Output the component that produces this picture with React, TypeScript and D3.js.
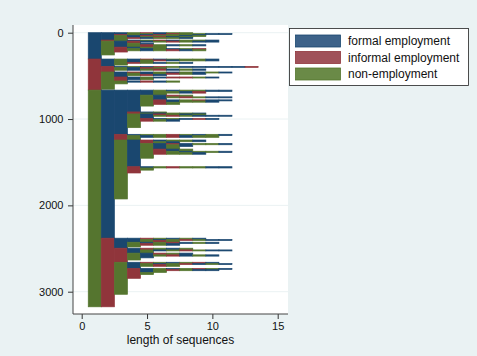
import React, { useRef, useEffect } from 'react';
import * as d3 from 'd3';

// states, in the order Stata sorts them
const stateCodes = ['F', 'I', 'N'];
const stateLabels = ['formal employment', 'informal employment', 'non-employment'];

// one letter per spell, and how many people follow that sequence
const sequences = [
    // starts formal
    'FFFNNFINNFF', 'FFFNIFNN', 'FFINFINNF', 'FFNFINNFN', 'FFNFNIFN', 'FFNIFNNF', 'FFN',
    'FINFNIFNNF',
    'FNFNINFNF', 'FNFIFNINFF', 'FNFNF', 'FNFI', 'FNINFNIFN', 'FNIFNN', 'FNINFNFNI', 'FNI', 'FNFNIN', 'FN',
    'F',
    // starts informal
    'IFNFNIFNNF', 'IFNINFNF', 'IFNFIFNNNF', 'IFNFN', 'IFN', 'IF',
    'IIFNFINFFFFFI', 'IINFNIFNF', 'IINFIN', 'II',
    'INFNFNINF', 'INFIFNFNFNF', 'INFNIF', 'INF', 'INIFNFIINF', 'INIFN', 'INI', 'INNFIFN', 'INN', 'IN',
    'I',
    // starts non-employed
    'NFFFFNFNNFF', 'NFFFFNNFI', 'NFFFFN',
    'NFFFNIFNIFF', 'NFFFNIFNNF', 'NFFFNIN', 'NFFFNFNINFF', 'NFFFNFIN', 'NFFFNF', 'NFFFN', 'NFFF',
    'NFFIFN', 'NFFINFNNF',
    'NFFNFNINFFF', 'NFFNFINFN', 'NFFNIFNFIF', 'NFFNINF', 'NFFNF', 'NFFN', 'NFF',
    'NFIFNNINFNF', 'NFINFNIFNN', 'NFIN',
    'NFNFNFIFNNF', 'NFNFIFNNF', 'NFNFNINFNNF', 'NFNFINF', 'NFNFNFNF', 'NFNFNIFN', 'NFNFNINNF', 'NFNFNFN', 'NFNFN', 'NFNF',
    'NFNIFNINNFF', 'NFNIN', 'NFNI', 'NFN', 'NF',
    'NIFFNFNINFF', 'NIFFINFNF', 'NIFFNIN', 'NIFNFNIFNF', 'NIFNINF', 'NIFN', 'NIF',
    'NIIFNFNINFF', 'NIIFINFN', 'NIIFN', 'NIINFNIFNF', 'NIINFINF', 'NIINF', 'NIIN', 'NII',
    'NINFNFNIFNF', 'NINFINFNIF', 'NINFNIN', 'NINF',
    'NINIFNFNINF', 'NINIFNINFF', 'NININ', 'NINIFN', 'NINI', 'NIN', 'NI',
];
const counts = [
    12, 10, 10, 13, 12, 10, 18,
    12,
    14, 12, 18, 12, 15, 16, 12, 14, 14, 34,
    47,
    12, 12, 10, 16, 20, 15,
    12, 15, 18, 20,
    15, 12, 16, 15, 12, 20, 14, 14, 20, 62,
    10,
    15, 20, 23,
    12, 15, 25, 12, 20, 23, 20, 68,
    12, 11,
    12, 15, 12, 20, 25, 75, 77,
    15, 20, 31,
    15, 20, 15, 20, 20, 25, 20, 30, 46, 98,
    15, 25, 33, 301, 454,
    12, 15, 20, 15, 20, 20, 14,
    12, 20, 25, 15, 20, 20, 25, 26,
    12, 15, 20, 24,
    12, 15, 25, 20, 43, 185, 145,
];

const xTicks = [0, 5, 10, 15];
const yTicks = [0, 1000, 2000, 3000];

const palette = { F: '#1a476f', I: '#90353b', N: '#55752f' };
const keyFill = { F: '#3d6289', I: '#a0525a', N: '#6a8a47' };

export default function App({ width = 477, height = 356 }) {
    const svgRef = useRef(null);

    useEffect(() => {
        const svg = d3.select(svgRef.current);
        svg.selectAll('*').remove();

        const plot = { left: 73, right: 288, top: 25, bottom: 314 };
        const font = 'Liberation Sans, Arial, Helvetica, sans-serif';

        // sort like sqindexplot: element by element, shorter sequences after longer ones
        const rank = (s, i) => (i < s.length ? stateCodes.indexOf(s[i]) : 3);
        const rows = sequences.map((s, i) => ({ seq: s, n: counts[i] }))
            .sort((a, b) => {
                const len = Math.max(a.seq.length, b.seq.length);
                for (let i = 0; i < len; i++) {
                    const d = rank(a.seq, i) - rank(b.seq, i);
                    if (d !== 0) return d;
                }
                return 0;
            });
        let acc = 0;
        rows.forEach(r => { r.start = acc; acc += r.n; r.end = acc; });

        // merge neighbouring rows that share the same state at a position
        const maxLen = d3.max(rows, r => r.seq.length);
        const blocks = [];
        for (let p = 0; p < maxLen; p++) {
            let cur = null;
            rows.forEach(r => {
                const st = r.seq[p];
                if (cur && cur.state === st) { cur.end = r.end; return; }
                if (cur && cur.state) blocks.push(cur);
                cur = { pos: p + 1, state: st, start: r.start, end: r.end };
            });
            if (cur && cur.state) blocks.push(cur);
        }

        const x = d3.scaleLinear().domain([0, 15]).range([81.7, 277.7]);
        const y = d3.scaleLinear().domain([0, 3000]).range([32.7, 291.7]);

        // background + plot region
        svg.append('rect').attr('width', width).attr('height', height).attr('fill', '#eaf2f3');
        svg.append('rect')
            .attr('x', plot.left).attr('y', plot.top)
            .attr('width', plot.right - plot.left).attr('height', plot.bottom - plot.top)
            .attr('fill', 'white');

        // gridlines
        svg.append('g')
            .selectAll('line')
            .data(yTicks)
            .join('line')
            .attr('x1', plot.left).attr('x2', plot.right)
            .attr('y1', d => y(d)).attr('y2', d => y(d))
            .attr('stroke', '#eaf2f3')
            .attr('stroke-width', 1);

        // the sequences (outlined like Stata's rbars, so thin strips stay visible)
        svg.append('g')
            .selectAll('rect')
            .data(blocks)
            .join('rect')
            .attr('x', d => x(d.pos - 0.5))
            .attr('width', d => x(d.pos + 0.5) - x(d.pos - 0.5))
            .attr('y', d => y(d.start))
            .attr('height', d => y(d.end) - y(d.start))
            .attr('fill', d => palette[d.state])
            .attr('stroke', d => palette[d.state])
            .attr('stroke-width', 0.7);

        // axes
        svg.append('g')
            .attr('transform', `translate(${plot.left},0)`)
            .call(d3.axisLeft(y).tickValues(yTicks).tickFormat(d3.format('d')).tickSize(5).tickPadding(4.5))
            .call(g => g.select('.domain').remove())
            .call(g => g.selectAll('.tick line').attr('stroke', '#333'))
            .call(g => g.selectAll('.tick text')
                .attr('font-size', 11)
                .attr('font-family', font)
                .attr('fill', '#111'));

        svg.append('g')
            .attr('transform', `translate(0,${plot.bottom})`)
            .call(d3.axisBottom(x).tickValues(xTicks).tickSize(5).tickPadding(3.5))
            .call(g => g.select('.domain').remove())
            .call(g => g.selectAll('.tick line').attr('stroke', '#333'))
            .call(g => g.selectAll('.tick text')
                .attr('font-size', 11)
                .attr('font-family', font)
                .attr('fill', '#111'));

        svg.append('line')
            .attr('x1', plot.left).attr('x2', plot.left)
            .attr('y1', plot.top).attr('y2', plot.bottom)
            .attr('stroke', '#444');
        svg.append('line')
            .attr('x1', plot.left).attr('x2', plot.right)
            .attr('y1', plot.bottom).attr('y2', plot.bottom)
            .attr('stroke', '#444');

        svg.append('text')
            .attr('x', (plot.left + plot.right) / 2)
            .attr('y', 344)
            .attr('text-anchor', 'middle')
            .attr('font-size', 12)
            .attr('font-family', font)
            .attr('fill', '#111')
            .text('length of sequences');

        // legend
        const legend = svg.append('g');
        legend.append('rect')
            .attr('x', 289.5).attr('y', 28.5)
            .attr('width', 179).attr('height', 57)
            .attr('fill', 'white')
            .attr('stroke', '#222')
            .attr('stroke-width', 0.8);
        stateCodes.forEach((code, i) => {
            const cy = 41 + i * 16.5;
            legend.append('rect')
                .attr('x', 295.5).attr('y', cy - 6)
                .attr('width', 45).attr('height', 12)
                .attr('fill', keyFill[code])
                .attr('stroke', palette[code])
                .attr('stroke-width', 0.8);
            legend.append('text')
                .attr('x', 348)
                .attr('y', cy + 4.3)
                .attr('font-size', 12)
                .attr('font-family', font)
                .attr('fill', '#111')
                .text(stateLabels[i]);
        });
    }, []);

    return (
        <svg
            ref={svgRef}
            width={width}
            height={height}
            style={{ position: 'absolute', left: 0, top: 0, display: 'block' }}
        />
    );
}
